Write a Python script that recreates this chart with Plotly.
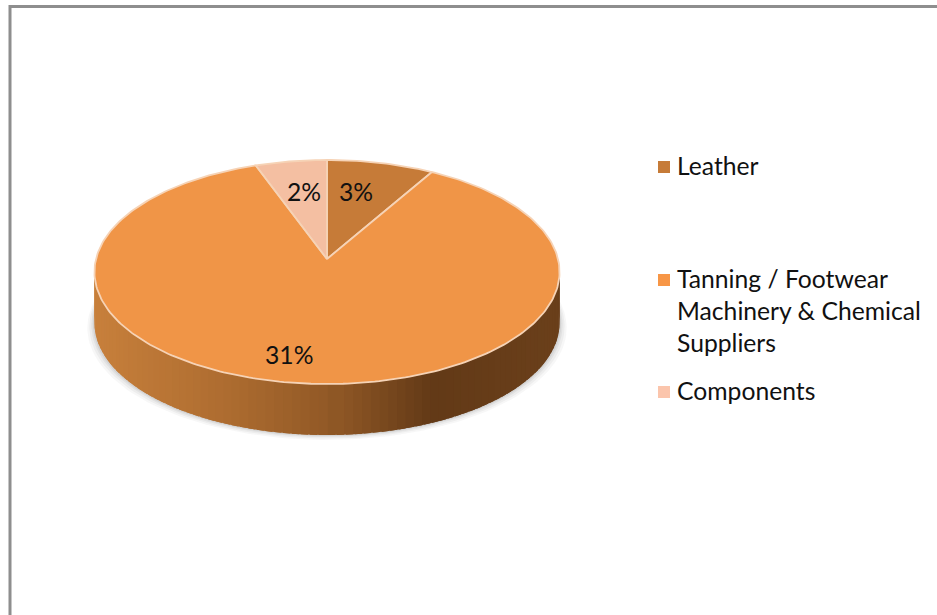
import numpy as np
import plotly.graph_objects as go

# ---- data ----
categories = ["Leather", "Tanning / Footwear<br>Machinery & Chemical<br>Suppliers", "Components"]
values = [3, 31, 2]
slice_colors = ["#C67B38", "#F09547", "#F4BFA2"]
legend_colors = ["#C67B38", "#F79646", "#FBC5AC"]

# ---- layout / style constants (pixel-like axes) ----
W, H = 937, 615
CX, CY = 327, 259      # pie centre on screen
RX, RY = 231, 110.5    # pie radii
PERSP = 0.116          # perspective strength
DEPTH = 51             # wall thickness
FONT = "Lato"
FSIZE = 24.7
label_pos = [(356, 191), (289, 354), (304, 191)]
legend_y = [167, 280, 392]
LEG_X, LEG_TX = 664, 675
wall_stops = [(0, (200, 128, 60)), (0.3, (173, 108, 48)), (0.5, (147, 90, 39)),
              (0.72, (99, 58, 23)), (1, (107, 64, 27))]


def proj(deg, r=1.0, drop=0.0):
    t = np.radians(deg)
    d = r * np.cos(t)
    s = 1 / (1 + PERSP * d)
    return CX + RX * r * np.sin(t) * s, CY - RY * d * s + drop


def arc(a, b, n=80, drop=0.0):
    return proj(np.linspace(a, b, n), drop=drop)


def wall_color(x):
    t = (x - (CX - RX)) / (2 * RX)
    t = min(max(t, 0), 1)
    xs = [s[0] for s in wall_stops]
    rgb = [np.interp(t, xs, [s[1][i] for s in wall_stops]) for i in range(3)]
    return "rgb(%d,%d,%d)" % tuple(rgb)


fig = go.Figure()

# soft shadow under the wall
for grow, op in [(7, 0.05), (5, 0.06), (3, 0.08), (1.5, 0.10)]:
    x, y = arc(60, 300, 120, drop=DEPTH)
    x = CX + (x - CX) * (1 + grow / RX)
    y = y + grow * 0.7
    fig.add_trace(go.Scatter(x=x, y=y, mode="lines", fill="toself",
                             fillcolor=f"rgba(90,90,90,{op})", line=dict(width=0),
                             hoverinfo="skip", showlegend=False))

# side wall, as strips painted over each other along a gradient (no seams)
edges = np.linspace(278, 82, 100)
mid = 180
order = sorted(edges[:-1], key=lambda a: -abs(a - mid))
step = abs(edges[1] - edges[0])
for a in order:
    # each strip runs a little wider than its own step so neighbours overlap
    a0, a1 = a - step - 0.8, a + 0.8
    xt, yt = arc(a0, a1, 4)
    xb, yb = arc(a1, a0, 4, drop=DEPTH)
    x = np.concatenate([xt, xb])
    y = np.concatenate([yt, yb])
    c = wall_color(x.mean())
    fig.add_trace(go.Scatter(x=x, y=y, mode="lines", fill="toself", fillcolor=c,
                             line=dict(width=0), hoverinfo="skip", showlegend=False))

# top face: slices from the values, clockwise from 12 o'clock
total = sum(values)
start = 0.0
for name, v, col in zip(categories, values, slice_colors):
    sweep = 360 * v / total
    ax, ay = arc(start, start + sweep, max(int(sweep), 8))
    x = np.concatenate([[CX], ax, [CX]])
    y = np.concatenate([[CY], ay, [CY]])
    fig.add_trace(go.Scatter(x=x, y=y, mode="lines", fill="toself", fillcolor=col,
                             line=dict(color="#F6D3B6", width=1.8), name=name.replace("<br>", " "),
                             hoverinfo="name", showlegend=False))
    start += sweep

# legend squares
fig.add_trace(go.Scatter(x=[LEG_X] * 3, y=legend_y, mode="markers",
                         marker=dict(symbol="square", size=12, color=legend_colors),
                         hoverinfo="skip", showlegend=False))

ann = []
for v, (lx, ly) in zip(values, label_pos):
    ann.append(dict(x=lx, y=ly, text=f"{v}%", showarrow=False, xanchor="center", yanchor="middle",
                    font=dict(family=FONT, size=FSIZE, color="#111111")))
for name, ly in zip(categories, legend_y):
    ann.append(dict(x=LEG_TX, y=ly - 18, text=name, showarrow=False, xanchor="left", yanchor="top",
                    align="left", font=dict(family=FONT, size=FSIZE, color="#111111")))

fig.update_layout(
    width=W, height=H, margin=dict(l=0, r=0, t=0, b=0),
    paper_bgcolor="white", plot_bgcolor="white", showlegend=False,
    xaxis=dict(range=[0, W], visible=False, fixedrange=True),
    yaxis=dict(range=[H, 0], visible=False, fixedrange=True),
    annotations=ann,
    shapes=[dict(type="rect", xref="x", yref="y", x0=10, y0=6.5, x1=W + 20, y1=H + 20,
                 line=dict(color="#8E8E8E", width=3), layer="below")],
)
fig.write_html("out.html", config=dict(displayModeBar=False),
               post_script="document.body.style.margin='0';document.body.style.overflow='hidden';")
